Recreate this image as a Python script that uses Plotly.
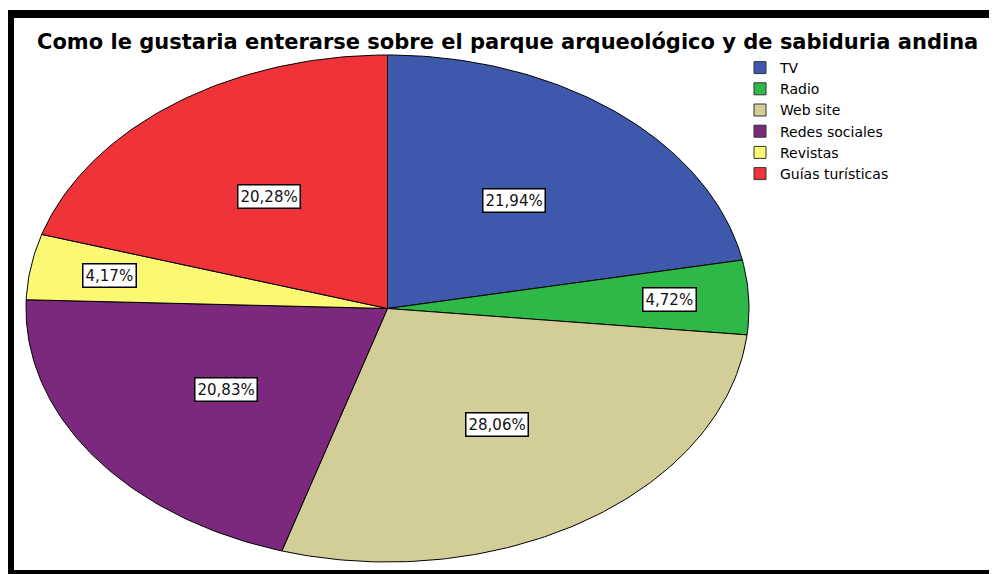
import numpy as np
import plotly.graph_objects as go

# ---- data ----
categories = ["TV", "Radio", "Web site", "Redes sociales", "Revistas", "Guías turísticas"]
percentages = [21.94, 4.72, 28.06, 20.83, 4.17, 20.28]
colors = ["#3E58AC", "#2EB848", "#D3CE97", "#7C287D", "#FBF873", "#EF3338"]
title_text = "Como le gustaria enterarse sobre el parque arqueológico y de sabiduria andina"

# ---- layout constants (page pixels; the page body has an 8px margin) ----
OFF = 8
W, H = 997 - OFF, 574 - OFF
CX, CY, RX, RY = 387.5 - OFF, 308.5 - OFF, 361.5, 253.5

x_range = [-CX / RX, (W - CX) / RX]
y_range = [(CY - H) / RY, CY / RY]

FONT = "DejaVu Sans, Verdana, sans-serif"

fig = go.Figure()

total = sum(percentages)
start = 0.0
annotations = []
for name, val, col in zip(categories, percentages, colors):
    frac = val / total
    t = np.linspace(start, start + frac, max(int(frac * 400), 8)) * 2 * np.pi
    xs = np.concatenate([[0], np.sin(t), [0]])
    ys = np.concatenate([[0], np.cos(t), [0]])
    fig.add_trace(go.Scatter(
        x=xs, y=ys, mode="lines", fill="toself", fillcolor=col,
        line=dict(color="black", width=1), showlegend=False,
        hoverinfo="text", text=f"{name}: {val:.2f}%".replace(".", ","),
    ))
    mid = (start + frac / 2) * 2 * np.pi
    r = 0.55 if frac > 0.1 else 0.78
    annotations.append(dict(
        x=r * np.sin(mid), y=r * np.cos(mid), xref="x", yref="y",
        text=f"{val:.2f}%".replace(".", ","), showarrow=False,
        bgcolor="white", bordercolor="black", borderwidth=1.5, borderpad=2,
        font=dict(family=FONT, size=15, color="#111111"),
    ))
    start += frac

# legend-only swatches
for name, col in zip(categories, colors):
    fig.add_trace(go.Scatter(
        x=[None], y=[None], mode="markers", name=name,
        marker=dict(symbol="square", size=12, color=col, line=dict(color="#333333", width=1)),
    ))

annotations.append(dict(
    x=(35 - OFF) / W, y=1 - (42 - OFF) / H, xref="paper", yref="paper",
    xanchor="left", yanchor="middle",
    text=f"<b>{title_text}</b>", showarrow=False,
    font=dict(family=FONT, size=21, color="black"),
))

def px_x(p):
    return (p - OFF) / W

def px_y(p):
    return 1 - (p - OFF) / H

frame = dict(color="black", width=8)
fig.update_layout(
    width=W, height=H,
    margin=dict(l=0, r=0, t=0, b=0),
    paper_bgcolor="white", plot_bgcolor="white",
    xaxis=dict(range=x_range, visible=False, fixedrange=True),
    yaxis=dict(range=y_range, visible=False, fixedrange=True),
    showlegend=True,
    legend=dict(
        x=px_x(740), y=px_y(52), xanchor="left", yanchor="top",
        font=dict(family=FONT, size=14, color="black"),
        bgcolor="rgba(0,0,0,0)", tracegroupgap=0, itemwidth=30,
    ),
    annotations=annotations,
    shapes=[
        dict(type="line", xref="paper", yref="paper", x0=px_x(10), x1=px_x(10),
             y0=px_y(10), y1=px_y(580), line=frame, layer="above"),
        dict(type="line", xref="paper", yref="paper", x0=px_x(6), x1=px_x(1000),
             y0=px_y(14), y1=px_y(14), line=frame, layer="above"),
        dict(type="line", xref="paper", yref="paper", x0=px_x(6), x1=px_x(1000),
             y0=px_y(574), y1=px_y(574), line=frame, layer="above"),
    ],
)

fig.write_html("out.html")
